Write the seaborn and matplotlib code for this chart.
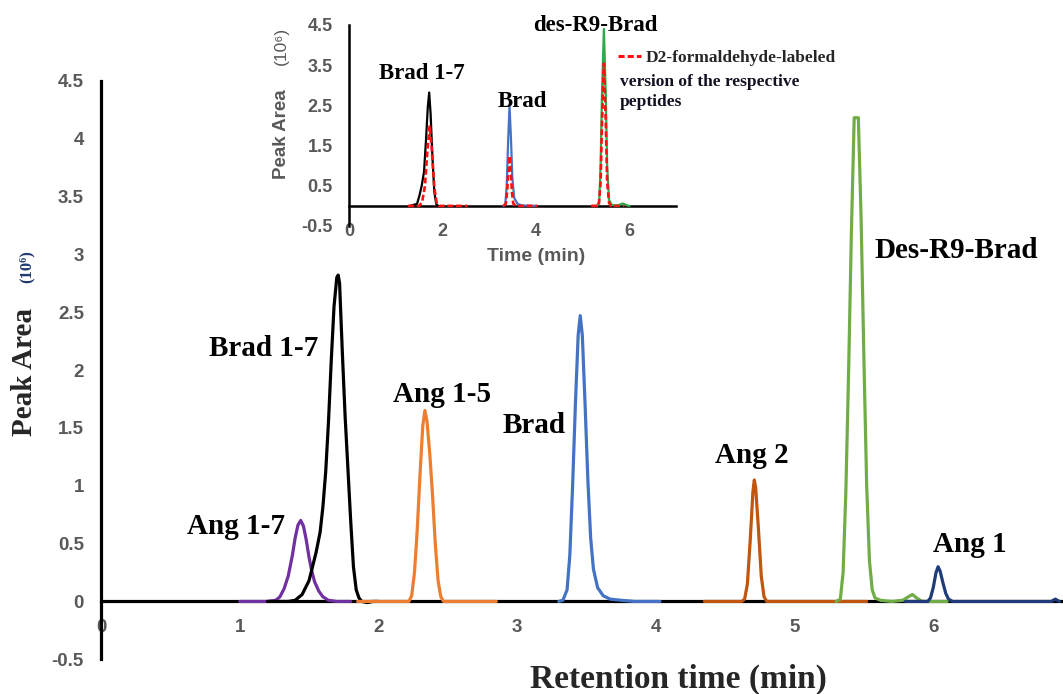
import matplotlib
matplotlib.use("Agg")
import matplotlib.pyplot as plt
from matplotlib.lines import Line2D
import pandas as pd
import seaborn as sns

# ---------------- chromatogram traces: time (min), peak area (10^6) ----------------
ang17_t = [1.00, 1.20, 1.26, 1.29, 1.32, 1.35, 1.38, 1.40, 1.42, 1.44, 1.46, 1.48, 1.50,
           1.52, 1.54, 1.57, 1.60, 1.64, 1.70, 1.80]
ang17_y = [0, 0, 0.01, 0.04, 0.11, 0.22, 0.40, 0.55, 0.66, 0.70, 0.65, 0.53, 0.38,
           0.26, 0.17, 0.09, 0.04, 0.01, 0, 0]

brad17_t = [1.20, 1.35, 1.40, 1.45, 1.50, 1.55, 1.58, 1.60, 1.62, 1.64, 1.66, 1.68, 1.70,
            1.71, 1.72, 1.74, 1.76, 1.78, 1.80, 1.82, 1.84, 1.86, 1.88, 1.92, 1.96, 2.00]
brad17_y = [0, 0, 0.01, 0.06, 0.18, 0.42, 0.60, 0.82, 1.12, 1.55, 2.08, 2.55, 2.80,
            2.82, 2.75, 2.15, 1.60, 1.15, 0.70, 0.30, 0.10, 0.03, 0, -0.01, 0, 0]

ang15_t = [1.85, 2.22, 2.24, 2.26, 2.28, 2.30, 2.32, 2.335, 2.35, 2.37, 2.39, 2.41, 2.43,
           2.45, 2.47, 2.85]
ang15_y = [0, 0, 0.05, 0.25, 0.62, 1.10, 1.52, 1.65, 1.56, 1.28, 0.92, 0.50, 0.18,
           0.04, 0, 0]

brad_t = [3.30, 3.33, 3.36, 3.38, 3.40, 3.42, 3.44, 3.455, 3.47, 3.49, 3.51, 3.53, 3.55,
          3.58, 3.62, 3.67, 3.75, 3.85, 4.03]
brad_y = [0, 0.01, 0.10, 0.40, 1.00, 1.70, 2.30, 2.47, 2.30, 1.70, 1.05, 0.55, 0.28,
          0.12, 0.05, 0.02, 0.01, 0, 0]

ang2_t = [4.35, 4.62, 4.64, 4.66, 4.68, 4.70, 4.71, 4.72, 4.74, 4.76, 4.78, 4.80, 5.52]
ang2_y = [0, 0, 0.02, 0.15, 0.52, 0.95, 1.05, 0.98, 0.62, 0.22, 0.04, 0, 0]

desr9_t = [5.30, 5.33, 5.35, 5.37, 5.39, 5.41, 5.43, 5.46, 5.48, 5.50, 5.52, 5.54, 5.56,
           5.58, 5.62, 5.70, 5.78, 5.82, 5.85, 5.88, 5.92, 6.10]
desr9_y = [0, 0.02, 0.25, 0.95, 2.00, 3.20, 4.18, 4.18, 3.30, 2.10, 1.00, 0.35, 0.10,
           0.03, 0.01, 0, 0.01, 0.04, 0.06, 0.03, 0, 0]

ang1_t = [5.80, 5.96, 5.98, 6.00, 6.02, 6.035, 6.05, 6.07, 6.09, 6.11, 6.14, 6.85, 6.88, 6.91]
ang1_y = [0, 0, 0.03, 0.12, 0.25, 0.30, 0.26, 0.16, 0.07, 0.02, 0, 0, 0.02, 0]

# inset: unlabeled peptides (solid) and D2-formaldehyde-labeled versions (dashed)
in_brad17_t = [1.30, 1.45, 1.50, 1.55, 1.60, 1.64, 1.68, 1.71, 1.74, 1.78, 1.82, 1.86, 1.90]
in_brad17_y = [0, 0.05, 0.25, 0.50, 0.85, 1.60, 2.45, 2.82, 2.30, 1.20, 0.35, 0.05, 0]
in_brad_t = [3.30, 3.34, 3.37, 3.40, 3.43, 3.46, 3.49, 3.53, 3.60, 3.70, 4.00]
in_brad_y = [0, 0.05, 0.50, 1.60, 2.49, 1.70, 0.70, 0.20, 0.05, 0.01, 0]
in_desr9_t = [5.30, 5.35, 5.38, 5.41, 5.45, 5.49, 5.52, 5.56, 5.62, 5.75, 5.85, 5.95, 6.00]
in_desr9_y = [0, 0.10, 1.00, 2.80, 4.40, 2.80, 1.00, 0.15, 0.02, 0.01, 0.06, 0.01, 0]

d2_brad17_t = [1.26, 1.50, 1.56, 1.62, 1.67, 1.72, 1.77, 1.82, 1.87, 1.92, 2.53]
d2_brad17_y = [0, 0, 0.10, 0.50, 1.35, 2.00, 1.35, 0.45, 0.08, 0, 0]
d2_brad_t = [3.30, 3.35, 3.38, 3.40, 3.43, 3.46, 3.48, 3.51, 3.56, 4.03]
d2_brad_y = [0, 0.05, 0.35, 0.80, 1.24, 0.80, 0.35, 0.06, 0, 0]
d2_desr9_t = [5.18, 5.34, 5.38, 5.41, 5.45, 5.49, 5.52, 5.56, 5.60, 5.89]
d2_desr9_y = [0, 0, 0.60, 2.10, 3.54, 2.10, 0.60, 0.08, 0, 0]

# axis ticks
main_xticks = [0, 1, 2, 3, 4, 5, 6]
main_xlabels = ["0", "1", "2", "3", "4", "5", "6"]
main_yticks = [-0.5, 0, 0.5, 1, 1.5, 2, 2.5, 3, 3.5, 4, 4.5]
main_ylabels = ["-0.5", "0", "0.5", "1", "1.5", "2", "2.5", "3", "3.5", "4", "4.5"]
inset_xticks = [0, 2, 4, 6]
inset_xlabels = ["0", "2", "4", "6"]
inset_yticks = [-0.5, 0.5, 1.5, 2.5, 3.5, 4.5]
inset_ylabels = ["-0.5", "0.5", "1.5", "2.5", "3.5", "4.5"]

# peak labels: (text, time, area) of the label anchor
main_peak_labels = [("Ang 1-7", 0.973, 0.58), ("Brad 1-7", 1.175, 2.12), ("Ang 1-5", 2.456, 1.72),
                    ("Brad", 3.125, 1.455), ("Ang 2", 4.69, 1.196), ("Des-R9-Brad", 6.163, 2.968),
                    ("Ang 1", 6.26, 0.43)]
inset_peak_labels = [("Brad 1-7", 1.55, 3.15), ("Brad", 3.70, 2.45), ("des-R9-Brad", 5.26, 4.36)]

# ---------------- styling ----------------
sns.set_theme(style="white")
plt.rcParams["font.family"] = ["Liberation Sans", "DejaVu Sans"]
SERIF = ["Liberation Serif", "DejaVu Serif"]
SANS = ["Liberation Sans", "DejaVu Sans"]
GREY = "#595959"

main_palette = {"Ang 1-7": "#7030A0", "Brad 1-7": "#000000", "Ang 1-5": "#ED7D31",
                "Brad": "#4472C4", "Ang 2": "#C0560F", "Des-R9-Brad": "#70AD47",
                "Ang 1": "#1F3C78"}
inset_palette = {"Brad 1-7": "#000000", "Brad": "#4472C4", "des-R9-Brad": "#2DAA4A"}

W, H = 1063, 694
fig = plt.figure(figsize=(W / 100, H / 100), dpi=100)


def fx(px):
    return px / W


def fy(py):
    return 1 - py / H


def trace_frame(traces):
    return pd.concat([pd.DataFrame({"peptide": name, "time": t, "area": y})
                      for name, t, y in traces], ignore_index=True)


# ---------------- main chromatogram ----------------
ax = fig.add_axes([0.0950, 0.0500, 0.9030, 0.8337])
main_df = trace_frame([("Ang 1-7", ang17_t, ang17_y), ("Brad 1-7", brad17_t, brad17_y),
                       ("Ang 1-5", ang15_t, ang15_y), ("Brad", brad_t, brad_y),
                       ("Ang 2", ang2_t, ang2_y), ("Des-R9-Brad", desr9_t, desr9_y),
                       ("Ang 1", ang1_t, ang1_y)])
sns.lineplot(data=main_df, x="time", y="area", hue="peptide", units="peptide",
             palette=main_palette, estimator=None, sort=False, legend=False,
             linewidth=2.3, zorder=3, ax=ax)

ax.set_xlim(0, 6.92)
ax.set_ylim(-0.5, 4.5)
ax.set_facecolor("none")
ax.spines[["top", "right"]].set_visible(False)
ax.spines["bottom"].set_position(("data", 0))
for s in ("left", "bottom"):
    ax.spines[s].set_color("black")
    ax.spines[s].set_linewidth(2.3)
ax.set_xticks(main_xticks, labels=main_xlabels, fontweight="bold", fontfamily=SANS)
ax.set_yticks(main_yticks, labels=main_ylabels, fontweight="bold", fontfamily=SANS)
ax.tick_params(axis="both", direction="out", length=4.8, width=2, color="black",
               labelsize=13.5, labelcolor=GREY, pad=7.5)
ax.set_xlabel("")
ax.set_ylabel("")

for text, t, a in main_peak_labels:
    ax.text(t, a, text, ha="center", va="baseline", fontsize=21, fontweight="bold",
            family=SERIF, color="black")

fig.text(fx(678), fy(679), "Retention time (min)", ha="center", va="center",
         fontsize=24, fontweight="bold", family=SERIF)
fig.text(fx(25), fy(372), "Peak Area", ha="center", va="center", rotation=90,
         fontsize=21, fontweight="bold", family=SERIF)
fig.text(fx(27), fy(267), "(10⁶)", ha="center", va="center", rotation=90,
         fontsize=12, fontweight="bold", family=SERIF, color="#1F3A6E")

# ---------------- inset: labeled vs. unlabeled peptides ----------------
ins = fig.add_axes([0.3286, 0.6744, 0.3076, 0.2896])
ins.set_facecolor("white")
inset_df = trace_frame([("Brad 1-7", in_brad17_t, in_brad17_y), ("Brad", in_brad_t, in_brad_y),
                        ("des-R9-Brad", in_desr9_t, in_desr9_y)])
d2_df = trace_frame([("Brad 1-7", d2_brad17_t, d2_brad17_y), ("Brad", d2_brad_t, d2_brad_y),
                     ("des-R9-Brad", d2_desr9_t, d2_desr9_y)])
sns.lineplot(data=inset_df, x="time", y="area", hue="peptide", units="peptide",
             palette=inset_palette, estimator=None, sort=False, legend=False,
             linewidth=1.6, zorder=3, ax=ins)
sns.lineplot(data=d2_df, x="time", y="area", units="peptide", color="#FF1010",
             estimator=None, sort=False, legend=False, linewidth=1.9,
             linestyle=(0, (2.2, 1.1)), zorder=4, ax=ins)

ins.set_xlim(0, 7)
ins.set_ylim(-0.5, 4.5)
ins.spines[["top", "right"]].set_visible(False)
ins.spines["bottom"].set_position(("data", 0))
for s in ("left", "bottom"):
    ins.spines[s].set_color("black")
    ins.spines[s].set_linewidth(1.8)
ins.set_xticks(inset_xticks, labels=inset_xlabels, fontweight="bold", fontfamily=SANS)
ins.set_yticks(inset_yticks, labels=inset_ylabels, fontweight="bold", fontfamily=SANS)
ins.tick_params(axis="both", direction="inout", length=8, width=1.8, color="black",
                labelsize=13, labelcolor=GREY, pad=8)
ins.set_xlabel("")
ins.set_ylabel("")

for text, t, a in inset_peak_labels:
    ins.text(t, a, text, ha="center", va="baseline", fontsize=16.5, fontweight="bold",
             family=SERIF, color="black")

fig.text(fx(536), fy(257), "Time (min)", ha="center", va="center", fontsize=14,
         fontweight="bold", family=SANS, color=GREY)
fig.text(fx(281), fy(134), "Peak Area", ha="center", va="center", rotation=90,
         fontsize=13.5, fontweight="bold", family=SANS, color=GREY)
fig.text(fx(281), fy(46), "(10⁶)", ha="center", va="center", rotation=90,
         fontsize=12.5, family=SANS, color=GREY)

key = Line2D([], [], color="#FF1010", linewidth=2.2, linestyle=(0, (2.0, 1.0)))
fig.legend(handles=[key], labels=["D2-formaldehyde-labeled"], loc="center left",
           bbox_to_anchor=(fx(618), fy(58)), frameon=False, borderpad=0, borderaxespad=0,
           handlelength=1.3, handletextpad=0.3,
           prop={"family": SERIF, "weight": "bold", "size": 12.5})
fig.text(fx(620), fy(86), "version of the respective", ha="left", va="baseline",
         fontsize=12.5, fontweight="bold", family=SERIF, color="#111122")
fig.text(fx(620), fy(106), "peptides", ha="left", va="baseline",
         fontsize=12.5, fontweight="bold", family=SERIF, color="#111122")

fig.savefig("out.png", dpi=100)
